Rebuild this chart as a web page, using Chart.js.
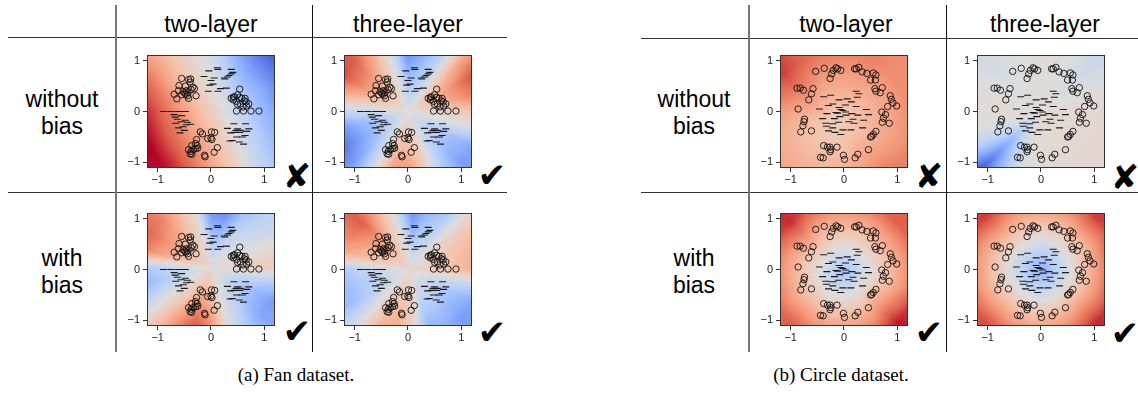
<!DOCTYPE html>
<html>
<head>
<meta charset="utf-8">
<script src="https://cdn.jsdelivr.net/npm/chart.js@4/dist/chart.umd.min.js"></script>
<style>
  html, body { margin: 0; padding: 0; background: #fff; }
  #fig { position: relative; width: 1138px; height: 393px; overflow: hidden;
         font-family: "Liberation Sans", Arial, sans-serif; color: #000; }
  .hd { position: absolute; font-size: 23px; line-height: 27px; text-align: center; white-space: nowrap; }
  .ln { position: absolute; }
  .mk { position: absolute; font-family: "DejaVu Sans", sans-serif; font-weight: bold; font-size: 34px;
        line-height: 1; transform: translate(-50%, -50%); color: #000; }
  .cap { position: absolute; font-family: "Liberation Serif", serif; font-size: 19px; line-height: 1;
         transform: translate(-50%, -50%); white-space: nowrap; color: #000; }
  canvas { position: absolute; }
</style>
</head>
<body>
<div id="fig"></div>
<script>
// ---------- axis ticks ----------
const tickValues = [-1, 0, 1];
const xRange = [-1.2, 1.2];
const yRange = [-1.11, 1.12];

// ---------- Fan dataset ----------
const fanCircles = [
  [-0.55,0.65],[-0.42,0.63],[-0.38,0.64],[-0.6,0.51],[-0.48,0.5],[-0.39,0.58],[-0.31,0.45],[-0.37,0.43],
  [-0.46,0.41],[-0.52,0.39],[-0.61,0.41],[-0.69,0.34],[-0.64,0.25],[-0.55,0.33],[-0.47,0.34],[-0.43,0.37],
  [-0.28,0.31],[-0.42,0.26],[-0.49,0.36],[-0.34,0.48],[-0.44,0.31],
  [0.54,0.44],[0.38,0.26],[0.42,0.23],[0.5,0.33],[0.58,0.26],[0.64,0.26],[0.48,0.2],[0.55,0.15],
  [0.63,0.21],[0.67,0.11],[0.71,0.15],[0.6,0.09],[0.48,0.01],[0.61,0.01],[0.75,0.01],[0.9,0.01],
  [0.54,0.28],[0.44,0.29],[0.5,0.14],[0.66,0.19],[0.42,0.28],
  [-0.2,-0.4],[-0.16,-0.44],[0.01,-0.4],[0.07,-0.41],[0.0,-0.52],[-0.06,-0.53],[0.02,-0.55],[-0.27,-0.55],
  [-0.29,-0.63],[-0.36,-0.67],[-0.26,-0.67],[-0.25,-0.72],[-0.42,-0.75],[-0.37,-0.78],[-0.33,-0.75],
  [-0.29,-0.73],[-0.39,-0.83],[-0.36,-0.84],[-0.12,-0.86],[-0.11,-0.89],[0.06,-0.8],[0.12,-0.71]
];
const fanDashes = [
  [-0.04,0.8],[0.12,0.86],[0.13,0.83],[0.38,0.83],[0.41,0.77],[-0.13,0.69],[0.06,0.66],[0.31,0.68],
  [0.26,0.64],[0.34,0.71],[0.0,0.61],[0.04,0.54],[-0.02,0.52],[0.18,0.45],[0.29,0.46],[-0.05,0.4],
  [0.13,0.4],[0.38,0.74],[0.25,0.66],
  [-0.89,0.0],[-0.75,0.0],[-0.61,0.0],[-0.48,0.0],[-0.69,-0.06],[-0.67,-0.11],[-0.63,-0.15],[-0.48,-0.17],
  [-0.56,-0.2],[-0.66,-0.23],[-0.38,-0.25],[-0.46,-0.26],[-0.52,-0.3],[-0.61,-0.32],[-0.5,-0.37],
  [-0.58,-0.42],[-0.44,-0.21],[-0.55,-0.08],
  [0.43,-0.24],[0.65,-0.24],[0.31,-0.33],[0.5,-0.34],[0.47,-0.37],[0.55,-0.37],[0.37,-0.42],[0.54,-0.41],
  [0.67,-0.39],[0.71,-0.34],[0.48,-0.5],[0.59,-0.5],[0.4,-0.57],[0.53,-0.6],[0.61,-0.64],[0.36,-0.58],
  [0.64,-0.47],[0.44,-0.41]
];

// ---------- Circle dataset ----------
const circleCircles = [
  [-0.53,0.79],[-0.37,0.85],[-0.26,0.65],[-0.23,0.74],[-0.2,0.81],[-0.15,0.86],[-0.12,0.84],[-0.06,0.81],
  [0.2,0.84],[0.23,0.84],[0.28,0.87],[0.34,0.78],[0.43,0.75],[0.5,0.62],[0.55,0.76],[0.6,0.72],[0.59,0.62],
  [-0.88,0.46],[-0.82,0.46],[-0.76,0.42],[-0.58,0.45],[-0.61,0.35],[-0.66,0.23],
  [0.58,0.45],[0.6,0.4],[0.68,0.37],[0.72,0.47],[0.87,0.31],[0.89,0.24],[0.92,0.17],[0.99,0.11],[0.82,0.1],
  [-0.86,0.05],[-0.74,-0.15],[-0.75,-0.2],[-0.77,-0.28],[-0.81,-0.4],[-0.61,-0.38],
  [0.71,-0.01],[0.78,-0.06],[0.74,-0.13],[0.85,-0.23],[0.72,-0.21],
  [0.6,-0.39],[0.55,-0.45],[0.5,-0.5],[0.52,-0.49],[0.46,-0.75],
  [-0.38,-0.67],[-0.31,-0.7],[-0.26,-0.7],[-0.25,-0.75],[-0.26,-0.79],[-0.13,-0.7],[-0.44,-0.9],[-0.39,-0.91],
  [-0.01,-0.86],[0.01,-0.94],[0.21,-0.91],[0.26,-0.84]
];
const circleDashes = [
  [-0.38,0.29],[-0.25,0.32],[0.06,0.25],[0.25,0.28],[0.23,0.4],[0.28,0.35],[-0.09,0.23],[-0.21,0.15],
  [-0.29,0.12],[0.03,0.13],[0.14,0.19],[0.23,0.1],[-0.09,0.08],[-0.06,0.04],[-0.02,0.02],[0.03,-0.01],
  [-0.15,-0.02],[-0.32,-0.04],[0.15,-0.04],[0.26,-0.07],[-0.4,-0.14],[-0.18,-0.14],[-0.08,-0.1],[0.04,-0.07],
  [0.17,-0.15],[0.37,-0.17],[0.46,-0.06],[-0.34,-0.23],[-0.21,-0.24],[-0.1,-0.21],[0.09,-0.2],[0.19,-0.23],
  [-0.33,-0.29],[-0.21,-0.32],[-0.02,-0.36],[0.13,-0.36],[0.35,-0.32],[-0.29,-0.38],[-0.17,-0.41],
  [-0.06,-0.45],[-0.46,0.05],[0.42,0.04],[-0.12,-0.03]
];

// ---------- decision-function backgrounds ----------
// Each field: [centerX, centerY, centerValue, ramp radius] plus the value reached
// along each direction (every 15 degrees, counter-clockwise from +x).
const profileAngles = [0,15,30,45,60,75,90,105,120,135,150,165,180,195,210,225,240,255,270,285,300,315,330,345];

const fanTwoNoBiasShape = [0.26, 0.0, 0.0, 1.55];
const fanTwoNoBiasProfile = [-0.9,-1.0,-1.0,-1.0,-0.95,-0.75,-0.4,-0.1,0.1,0.3,0.55,0.8,0.95,1.0,1.0,0.97,0.85,0.65,0.4,0.12,-0.18,-0.42,-0.62,-0.8];

const fanThreeNoBiasShape = [0.0, 0.0, 0.0, 1.4];
const fanThreeNoBiasProfile = [0.25,0.7,0.8,0.45,-0.25,-0.6,-0.85,-0.1,0.4,0.75,0.8,0.4,-0.2,-0.7,-0.8,-0.6,-0.05,0.55,0.6,0.25,-0.3,-0.6,-0.55,-0.05];

const fanTwoBiasShape = [0.0, 0.05, 0.05, 1.3];
const fanTwoBiasProfile = [0.2,0.1,-0.1,-0.22,-0.4,-0.85,-0.8,0.05,0.35,0.6,0.7,0.6,-0.3,-0.45,-0.15,0.2,0.55,0.85,0.6,0.0,-0.3,-0.55,-0.6,-0.3];

const fanThreeBiasShape = [0.08, 0.0, 0.05, 1.3];
const fanThreeBiasProfile = [0.4,0.4,0.3,0.1,-0.35,-0.5,-0.8,-0.1,0.35,0.75,0.6,0.4,-0.3,-0.4,-0.4,-0.05,0.35,0.45,0.15,-0.5,-0.5,-0.6,-0.55,-0.2];

const circleTwoNoBiasShape = [-0.15, -0.25, 0.15, 1.4];
const circleTwoNoBiasProfile = [0.55,0.55,0.55,0.55,0.6,0.6,0.62,0.65,0.75,0.85,0.75,0.6,0.5,0.45,0.45,0.45,0.45,0.45,0.45,0.5,0.55,0.65,0.6,0.55];

const circleThreeNoBiasShape = [0.0, 0.0, 0.03, 1.6];
const circleThreeNoBiasProfile = [0.08,0.03,-0.05,-0.15,-0.05,0.02,0.03,0.0,-0.05,-0.08,-0.03,0.03,0.03,0.0,-0.3,-0.95,-0.35,0.0,0.05,0.08,0.08,0.08,0.08,0.08];

const circleTwoBiasShape = [0.0, -0.05, -0.35, 1.4];
const circleTwoBiasProfile = [0.7,0.7,0.72,0.75,0.7,0.68,0.7,0.7,0.75,0.9,0.8,0.72,0.7,0.7,0.7,0.75,0.7,0.68,0.7,0.72,0.78,0.95,0.85,0.72];

const circleThreeBiasShape = [0.0, 0.0, -0.5, 1.45];
const circleThreeBiasProfile = [0.85,0.85,0.8,0.85,0.75,0.72,0.72,0.72,0.75,0.85,0.75,0.72,0.72,0.72,0.75,0.8,0.75,0.72,0.72,0.75,0.8,0.9,0.85,0.85];

// ---------- coolwarm colormap ----------
const coolwarmStops = [
  [59,76,192],[98,130,234],[141,176,254],[184,208,249],[221,221,221],
  [245,196,173],[244,154,123],[222,96,77],[180,4,38]
];
function coolwarm(v) {
  const t = Math.max(0, Math.min(1, (v + 1) / 2)) * (coolwarmStops.length - 1);
  const i = Math.min(coolwarmStops.length - 2, Math.floor(t));
  const f = t - i;
  const a = coolwarmStops[i], b = coolwarmStops[i + 1];
  return [a[0] + (b[0] - a[0]) * f, a[1] + (b[1] - a[1]) * f, a[2] + (b[2] - a[2]) * f];
}

function fieldValue(shape, profile, x, y) {
  const dx = x - shape[0], dy = y - shape[1];
  const r = Math.hypot(dx, dy);
  let th = Math.atan2(dy, dx) * 180 / Math.PI;
  if (th < 0) th += 360;
  const step = 360 / profile.length;
  const i0 = Math.floor(th / step) % profile.length;
  const f = th / step - Math.floor(th / step);
  const g = profile[i0] * (1 - f) + profile[(i0 + 1) % profile.length] * f;
  const v = shape[2] + (g - shape[2]) * Math.min(1, r / shape[3]);
  return Math.max(-1, Math.min(1, v));
}

// background image + frame of each panel
const decisionPlugin = {
  id: 'decision',
  beforeDatasetsDraw(chart, args, opts) {
    const { ctx, chartArea: a, scales } = chart;
    const w = a.right - a.left, h = a.bottom - a.top;
    const nx = 44, ny = 41;
    const off = document.createElement('canvas');
    off.width = nx; off.height = ny;
    const octx = off.getContext('2d');
    const img = octx.createImageData(nx, ny);
    for (let j = 0; j < ny; j++) {
      for (let i = 0; i < nx; i++) {
        const vx = scales.x.getValueForPixel(a.left + (i + 0.5) * w / nx);
        const vy = scales.y.getValueForPixel(a.top + (j + 0.5) * h / ny);
        const c = coolwarm(fieldValue(opts.shape, opts.profile, vx, vy));
        const k = (j * nx + i) * 4;
        img.data[k] = c[0]; img.data[k + 1] = c[1]; img.data[k + 2] = c[2]; img.data[k + 3] = 255;
      }
    }
    octx.putImageData(img, 0, 0);
    ctx.save();
    ctx.imageSmoothingEnabled = true;
    ctx.drawImage(off, a.left, a.top, w, h);
    ctx.restore();
  },
  afterDraw(chart) {
    const { ctx, chartArea: a } = chart;
    ctx.save();
    ctx.strokeStyle = '#333';
    ctx.lineWidth = 1;
    ctx.strokeRect(Math.round(a.left) + 0.5, Math.round(a.top) + 0.5,
                   Math.round(a.right - a.left) - 1, Math.round(a.bottom - a.top) - 1);
    ctx.restore();
  }
};

const fig = document.getElementById('fig');

function addDiv(cls, css, html) {
  const d = document.createElement('div');
  d.className = cls;
  Object.assign(d.style, css);
  if (html !== undefined) d.innerHTML = html;
  fig.appendChild(d);
  return d;
}

const PAD = 2, YW = 30, XH = 22, PW = 131, PH = 121;

function makePanel(left, top, circles, dashes, shape, profile) {
  const cv = document.createElement('canvas');
  cv.width = YW + PW + PAD;
  cv.height = PAD + PH + XH;
  cv.style.left = (left - YW) + 'px';
  cv.style.top = (top - PAD) + 'px';
  fig.appendChild(cv);
  const tickFont = { family: '"Liberation Sans", Arial, sans-serif', size: 11 };
  const axis = (range, isX) => ({
    type: 'linear',
    min: range[0], max: range[1],
    afterBuildTicks: s => { s.ticks = tickValues.map(v => ({ value: v })); },
    afterFit: s => { if (isX) s.height = XH; else s.width = YW; },
    ticks: {
      color: '#222', font: tickFont, padding: isX ? 1 : 3, maxRotation: 0, autoSkip: false,
      callback: v => (v < 0 ? '\u2212' + Math.abs(v) : String(v))
    },
    grid: { display: true, drawOnChartArea: false, drawTicks: true, tickLength: 4, color: '#333', lineWidth: 1 },
    border: { display: false }
  });
  new Chart(cv, {
    type: 'scatter',
    data: {
      datasets: [
        {
          data: circles.map(p => ({ x: p[0], y: p[1] })),
          pointStyle: 'circle', pointRadius: 3.2, pointBorderWidth: 0.9,
          pointBorderColor: '#111', pointBackgroundColor: 'rgba(0,0,0,0)'
        },
        {
          data: dashes.map(p => ({ x: p[0], y: p[1] })),
          pointStyle: 'line', pointRadius: 3.5, pointBorderWidth: 1.1,
          pointBorderColor: '#1a1a1a', pointBackgroundColor: '#1a1a1a'
        }
      ]
    },
    options: {
      responsive: false, animation: false, devicePixelRatio: 1,
      layout: { padding: { top: PAD, right: PAD, left: 0, bottom: 0 } },
      scales: { x: axis(xRange, true), y: axis(yRange, false) },
      plugins: { legend: { display: false }, tooltip: { enabled: false },
                 decision: { shape: shape, profile: profile } },
      events: []
    },
    plugins: [decisionPlugin]
  });
}

// ---------- table rules ----------
function hLine(x, y, w) { addDiv('ln', { left: x + 'px', top: y + 'px', width: w + 'px', height: '1px', background: '#333' }); }
function vLine(x, y, h, c, w) { addDiv('ln', { left: x + 'px', top: y + 'px', width: (w || 1) + 'px', height: h + 'px', background: c }); }

hLine(8, 37, 499); hLine(8, 192, 499);
vLine(115, 5, 347, '#777', 1.5); vLine(312, 5, 347, '#111');
hLine(641, 38, 497); hLine(641, 192, 497);
vLine(748, 5, 347, '#777', 1.5); vLine(946, 5, 347, '#111');

// ---------- headers ----------
function header(text, cx, top) {
  addDiv('hd', { left: (cx - 100) + 'px', top: top + 'px', width: '200px' }, text);
}
header('two-layer', 211, 10.5); header('three-layer', 408, 10.5);
header('two-layer', 846, 10.5); header('three-layer', 1045, 10.5);
header('without<br>bias', 62, 86); header('with<br>bias', 62, 245);
header('without<br>bias', 694, 86); header('with<br>bias', 694, 245);

// ---------- panels ----------
makePanel(147, 47, fanCircles, fanDashes, fanTwoNoBiasShape, fanTwoNoBiasProfile);
makePanel(344, 47, fanCircles, fanDashes, fanThreeNoBiasShape, fanThreeNoBiasProfile);
makePanel(147, 205, fanCircles, fanDashes, fanTwoBiasShape, fanTwoBiasProfile);
makePanel(344, 205, fanCircles, fanDashes, fanThreeBiasShape, fanThreeBiasProfile);
makePanel(780, 47, circleCircles, circleDashes, circleTwoNoBiasShape, circleTwoNoBiasProfile);
makePanel(977, 47, circleCircles, circleDashes, circleThreeNoBiasShape, circleThreeNoBiasProfile);
makePanel(780, 205, circleCircles, circleDashes, circleTwoBiasShape, circleTwoBiasProfile);
makePanel(977, 205, circleCircles, circleDashes, circleThreeBiasShape, circleThreeBiasProfile);

// ---------- verdict marks ----------
const CROSS = '\u2718', CHECK = '\u2714';
function mark(sym, cx, cy) { addDiv('mk', { left: cx + 'px', top: cy + 'px' }, sym); }
mark(CROSS, 297, 176); mark(CHECK, 492, 175);
mark(CHECK, 297, 331); mark(CHECK, 492, 332);
mark(CROSS, 929, 176); mark(CROSS, 1125, 177);
mark(CHECK, 929, 332); mark(CHECK, 1125, 333);

// ---------- captions ----------
addDiv('cap', { left: '296px', top: '374px' }, '(a) Fan dataset.');
addDiv('cap', { left: '841px', top: '374px' }, '(b) Circle dataset.');
</script>
</body>
</html>
